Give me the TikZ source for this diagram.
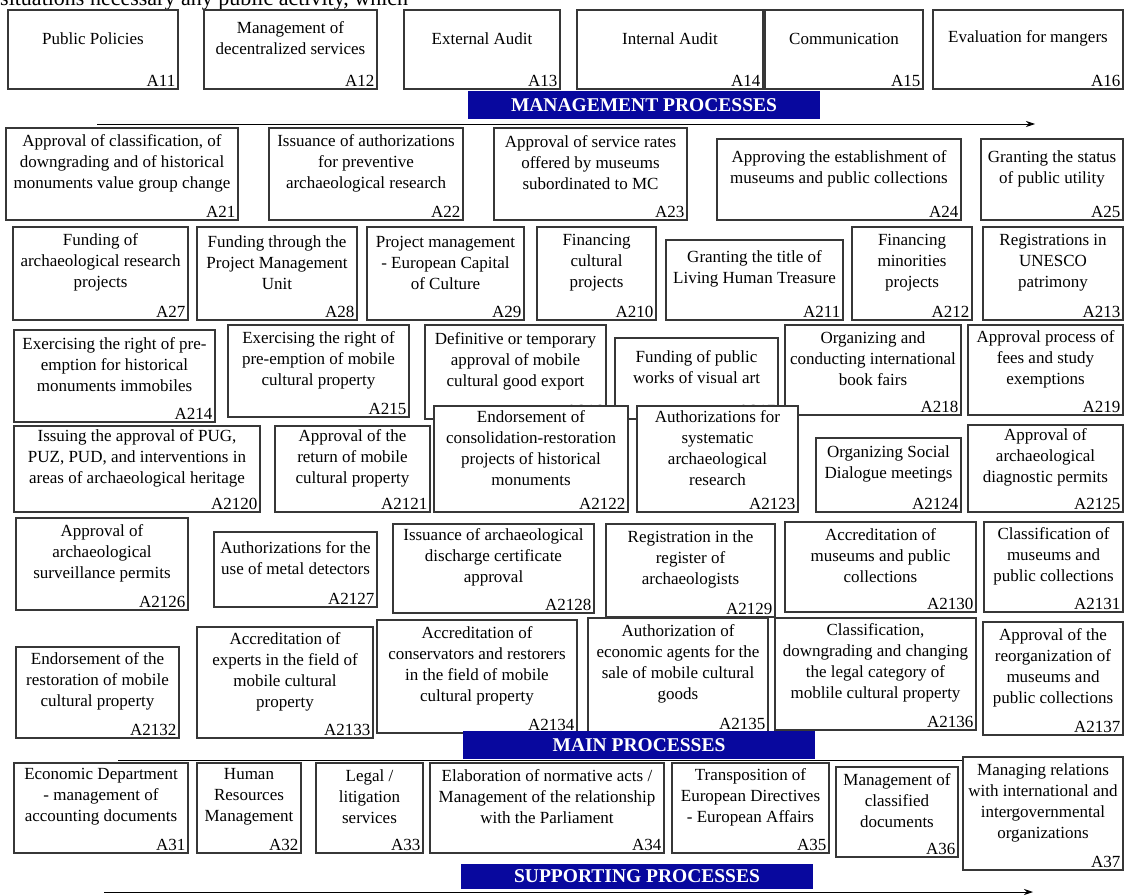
\documentclass[tikz,border=0pt]{standalone}
\usepackage{fontspec}
\setmainfont{Liberation Serif}
\usetikzlibrary{fit,arrows.meta,shadows}
\definecolor{procblue}{RGB}{8, 8, 158}
\definecolor{procgray}{RGB}{55, 55, 55}

\tikzset{
  procbox/.style={draw=procgray, line width=1.1pt, fill=white, inner sep=0pt,
    drop shadow={shadow xshift=1.3pt, shadow yshift=-1.3pt, fill=black!30, opacity=1}},
  proctext/.style={align=center, inner sep=0pt, font=\fontsize{17}{21}\selectfont},
  proclabel/.style={anchor=south east, inner sep=3pt, font=\fontsize{17}{21}\selectfont},
  procbar/.style={fill=procblue, inner sep=0pt},
  bartext/.style={inner sep=0pt, text=white, font=\bfseries\fontsize{19.5}{21}\selectfont},
  flow/.style={-{Stealth[length=9pt,width=6pt]}, line width=0.8pt}
}

% box: name, x1, y1, x2, y2, text, code
\newcommand{\activity}[7]{%
  \node[procbox, fit={(#2,#3) (#4,#5)}] (#1) {};
  \node[proctext] (#1t) at ([yshift=11pt]#1.center) {#6};
  \node[proclabel] (#1l) at (#1.south east) {#7};
}

\begin{document}
\begin{tikzpicture}[x=1pt, y=-1pt]
\useasboundingbox (0,0) rectangle (1125,896);
\clip (0,0) rectangle (1125,896);

% cut text line on top
\node[anchor=base west, inner sep=0pt, font=\fontsize{22}{26}\selectfont] (toptext) at (0,6) {situations necessary any public activity, which};

% Management processes
\activity{a11}{8}{10}{178}{89}{Public Policies}{A11}
\activity{a12}{204}{10}{377}{89}{Management of\\decentralized services}{A12}
\activity{a13}{404}{10}{560}{89}{External Audit}{A13}
\activity{a14}{577}{10}{763}{89}{Internal Audit}{A14}
\activity{a15}{765}{10}{923}{89}{Communication}{A15}
\activity{a16}{933}{10}{1123}{89}{Evaluation for mangers}{A16}

\node[procbar, fit={(468,91) (820,119)}] (mgmtbar) {};
\node[bartext] (mgmtlabel) at (mgmtbar.center) {MANAGEMENT PROCESSES};
\coordinate (mgmtstart) at (97,124);
\coordinate (mgmtend) at (1035,124);
\draw[flow] (mgmtstart) -- (mgmtend);

% Main processes
\activity{a21}{6}{128}{238}{220}{Approval of classification, of\\downgrading and of historical\\monuments value group change}{A21}
\activity{a22}{269}{128}{463}{220}{Issuance of authorizations\\for preventive\\archaeological research}{A22}
\activity{a23}{494}{128}{687}{220}{Approval of service rates\\offered by museums\\subordinated to MC}{A23}
\activity{a24}{717}{139}{961}{220}{Approving the establishment of\\museums and public collections}{A24}
\activity{a25}{981}{139}{1123}{220}{Granting the status\\of public utility}{A25}

\activity{a27}{13}{227}{188}{320}{Funding of\\archaeological research\\projects}{A27}
\activity{a28}{197}{227}{357}{320}{Funding through the\\Project Management\\Unit}{A28}
\activity{a29}{367}{227}{524}{320}{Project management\\- European Capital\\of Culture}{A29}
\activity{a210}{537}{227}{656}{320}{Financing\\cultural\\projects}{A210}
\activity{a211}{666}{240}{843}{320}{Granting the title of\\Living Human Treasure}{A211}
\activity{a212}{852}{227}{972}{320}{Financing\\minorities\\projects}{A212}
\activity{a213}{983}{227}{1123}{320}{Registrations in\\UNESCO\\patrimony}{A213}

\activity{a214}{14}{330}{215}{422}{Exercising the right of pre-\\emption for historical\\monuments immobiles}{A214}
\activity{a215}{228}{325}{409}{417}{Exercising the right of\\pre-emption of mobile\\cultural property}{A215}
\activity{a216}{425}{325}{606}{419}{Definitive or temporary\\approval of mobile\\cultural good export}{A216}
\activity{a217}{615}{338}{778}{419}{Funding of public\\works of visual art}{A217}
\activity{a218}{785}{325}{961}{415}{Organizing and\\conducting international\\book fairs}{A218}
\activity{a219}{968}{325}{1123}{415}{Approval process of\\fees and study\\exemptions}{A219}

\activity{a2120}{14}{426}{260}{512}{Issuing the approval of PUG,\\PUZ, PUD, and interventions in\\areas of archaeological heritage}{A2120}
\activity{a2121}{275}{426}{430}{512}{Approval of the\\return of mobile\\cultural property}{A2121}
\activity{a2122}{434}{406}{628}{512}{Endorsement of\\consolidation-restoration\\projects of historical\\monuments}{A2122}
\activity{a2123}{637}{406}{798}{512}{Authorizations for\\systematic\\archaeological\\research}{A2123}
\activity{a2124}{816}{438}{961}{512}{Organizing Social\\Dialogue meetings}{A2124}
\activity{a2125}{968}{425}{1123}{512}{Approval of\\archaeological\\diagnostic permits}{A2125}

\activity{a2126}{16}{518}{188}{610}{Approval of\\archaeological\\surveillance permits}{A2126}
\activity{a2127}{214}{532}{377}{607}{Authorizations for the\\use of metal detectors}{A2127}
\activity{a2128}{393}{524}{594}{613}{Issuance of archaeological\\discharge certificate\\approval}{A2128}
\activity{a2129}{606}{524}{775}{617}{Registration in the\\register of\\archaeologists}{A2129}
\activity{a2130}{785}{522}{976}{612}{Accreditation of\\museums and public\\collections}{A2130}
\activity{a2131}{984}{522}{1123}{612}{Classification of\\museums and\\public collections}{A2131}

\activity{a2132}{16}{647}{179}{738}{Endorsement of the\\restoration of mobile\\cultural property}{A2132}
\activity{a2133}{197}{627}{373}{738}{Accreditation of\\experts in the field of\\mobile cultural\\property}{A2133}
\activity{a2134}{377}{620}{577}{733}{Accreditation of\\conservators and restorers\\in the field of mobile\\cultural property}{A2134}
\activity{a2135}{588}{618}{768}{732}{Authorization of\\economic agents for the\\sale of mobile cultural\\goods}{A2135}
\activity{a2136}{775}{618}{976}{730}{Classification,\\downgrading and changing\\the legal category of\\moblile cultural property}{A2136}
\activity{a2137}{983}{622}{1123}{735}{Approval of the\\reorganization of\\museums and\\public collections}{A2137}

\node[procbar, fit={(463,731) (815,759)}] (mainbar) {};
\node[bartext] (mainlabel) at (mainbar.center) {MAIN PROCESSES};
\coordinate (mainstart) at (118,760);
\coordinate (mainend) at (1033,760);
\draw[flow] (mainstart) -- (mainend);

% Supporting processes
\activity{a31}{14}{763}{188}{853}{Economic Department\\- management of\\accounting documents}{A31}
\activity{a32}{197}{763}{301}{853}{Human\\Resources\\Management}{A32}
\activity{a33}{316}{763}{423}{853}{Legal /\\litigation\\services}{A33}
\activity{a34}{430}{763}{664}{853}{Elaboration of normative acts /\\Management of the relationship\\with the Parliament}{A34}
\activity{a35}{672}{763}{829}{853}{Transposition of\\European Directives\\- European Affairs}{A35}
\activity{a36}{836}{767}{958}{857}{Management of\\classified\\documents}{A36}
\activity{a37}{963}{757}{1123}{870}{Managing relations\\with international and\\intergovernmental\\organizations}{A37}

\node[procbar, fit={(461,864) (813,889)}] (suppbar) {};
\node[bartext] (supplabel) at (suppbar.center) {SUPPORTING PROCESSES};
\coordinate (suppstart) at (104,892);
\coordinate (suppend) at (1033,892);
\draw[flow] (suppstart) -- (suppend);
\end{tikzpicture}
\end{document}
